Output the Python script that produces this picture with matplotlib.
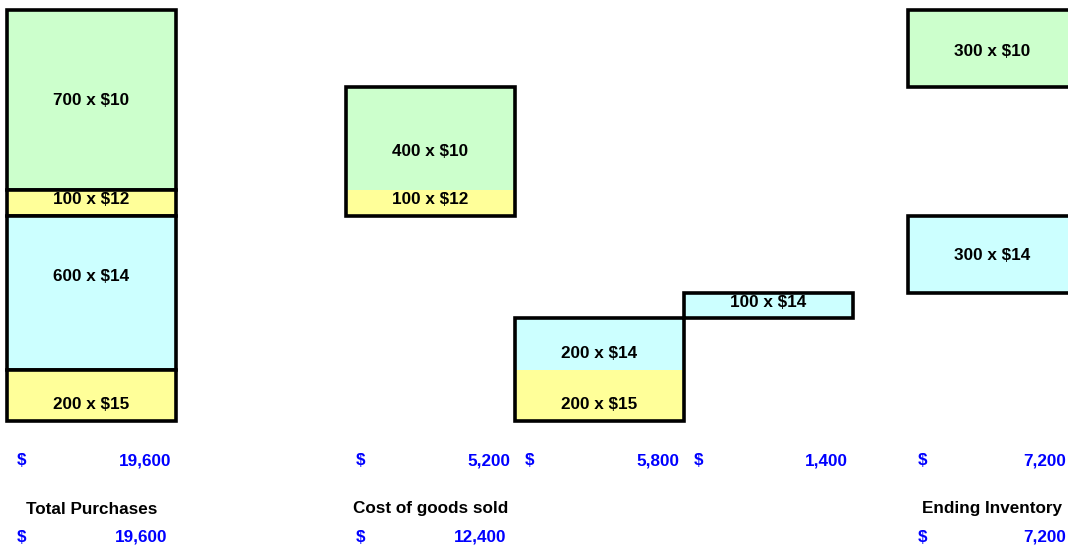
"""FIFO inventory layers: purchases, cost of goods sold and ending inventory."""
import matplotlib
matplotlib.use("Agg")
import matplotlib.pyplot as plt
from matplotlib.patches import Rectangle

plt.rcParams["font.family"] = ["Liberation Sans", "DejaVu Sans"]

# --- data (layers listed top to bottom) ---
purchase_units = [700, 100, 600, 200]
purchase_costs = [10, 12, 14, 15]

sale1_units = [400, 100]
sale1_costs = [10, 12]
sale2_units = [200, 200]
sale2_costs = [14, 15]
sale3_units = [100]
sale3_costs = [14]

ending_units = [300, 300]
ending_costs = [10, 14]

# --- layout / style ---
FILL = {10: "#ccffcc", 12: "#ffff99", 14: "#ccffff", 15: "#ffff99"}
BLUE = "#0000ff"
FS = 12.3
LW = 2.6
PX_PER_UNIT = 0.2566
BASE_PX = 421            # pixel row of unit 0
COLS = {                 # left, right pixel edges
    "purch": (7, 176),
    "s1": (346, 515),
    "s2": (515, 684),
    "s3": (684, 853),
    "end": (908, 1076),
}
# text sits in spreadsheet rows, so it is not always centred in its block
NUDGE = {
    ("purch", 12): 14, ("purch", 14): 64, ("purch", 15): -34,
    ("s1", 10): -50, ("s1", 12): 14,
    ("s2", 14): -35, ("s2", 15): -34,
    ("s3", 14): 13,
    ("end", 10): -10, ("end", 14): -4,
}


def px_to_units(py):
    return (BASE_PX - py) / PX_PER_UNIT


# bottom of each purchase layer, stacked from the bottom up
layer_base = {}
level = 0
for u, c in zip(purchase_units[::-1], purchase_costs[::-1]):
    layer_base[c] = level
    level += u

fig = plt.figure(figsize=(10.68, 5.46), dpi=100)
ax = fig.add_axes([0, 0, 1, 1])
ax.set_xlim(0, 1068)
ax.set_ylim(px_to_units(546), px_to_units(0))
ax.axis("off")


def label(col, y0, u, c):
    x0, x1 = COLS[col]
    yc = y0 + u / 2 + NUDGE.get((col, c), 0)
    ax.text((x0 + x1) / 2, yc, f"{u} x ${c}", ha="center", va="center",
            fontsize=FS, fontweight="bold", color="black", zorder=5)


# purchases: every layer outlined
x0, x1 = COLS["purch"]
for u, c in zip(purchase_units, purchase_costs):
    y0 = layer_base[c]
    ax.add_patch(Rectangle((x0, y0), x1 - x0, u, fc=FILL[c], ec="black",
                           lw=LW, joinstyle="miter", zorder=2))
    label("purch", y0, u, c)

# sold pieces and ending pieces fill each layer from the bottom, in column order
used = {c: 0 for c in purchase_costs}
groups = [("s1", sale1_units, sale1_costs), ("s2", sale2_units, sale2_costs),
          ("s3", sale3_units, sale3_costs), ("end", ending_units, ending_costs)]
totals = {}
for col, units, costs in groups:
    x0, x1 = COLS[col]
    lo, hi = None, None
    for u, c in zip(units, costs):
        y0 = layer_base[c] + used[c]
        used[c] += u
        if col == "end":
            ax.add_patch(Rectangle((x0, y0), x1 - x0, u, fc=FILL[c], ec="black",
                                   lw=LW, joinstyle="miter", zorder=2))
        else:
            ax.add_patch(Rectangle((x0, y0), x1 - x0, u, fc=FILL[c], ec="none", zorder=1))
        label(col, y0, u, c)
        lo = y0 if lo is None else min(lo, y0)
        hi = y0 + u if hi is None else max(hi, y0 + u)
    if col != "end":
        ax.add_patch(Rectangle((x0, lo), x1 - x0, hi - lo, fc="none", ec="black",
                               lw=LW, joinstyle="miter", zorder=3))
    totals[col] = sum(u * c for u, c in zip(units, costs))

totals["purch"] = sum(u * c for u, c in zip(purchase_units, purchase_costs))
cogs_total = totals["s1"] + totals["s2"] + totals["s3"]


def money(col, py, value, right_pad):
    x0, x1 = COLS[col]
    y = px_to_units(py + 5)   # shared baseline for "$" and the amount
    ax.text(x0 + 10, y, "$", ha="left", va="baseline", fontsize=FS,
            fontweight="bold", color=BLUE)
    ax.text(x1 - right_pad, y, f"{value:,.0f}", ha="right", va="baseline",
            fontsize=FS, fontweight="bold", color=BLUE)


for col in ["purch", "s1", "s2", "s3"]:
    money(col, 460, totals[col], 5)
money("end", 460, totals["end"], 10)

for col, name in [("purch", "Total Purchases"), ("s1", "Cost of goods sold"),
                  ("end", "Ending Inventory")]:
    x0, x1 = COLS[col]
    ax.text((x0 + x1) / 2, px_to_units(509), name, ha="center", va="center",
            fontsize=FS, fontweight="bold", color="black")

money("purch", 537, totals["purch"], 9)
money("s1", 537, cogs_total, 9)
money("end", 537, totals["end"], 10)

fig.savefig("out.png", dpi=100)
